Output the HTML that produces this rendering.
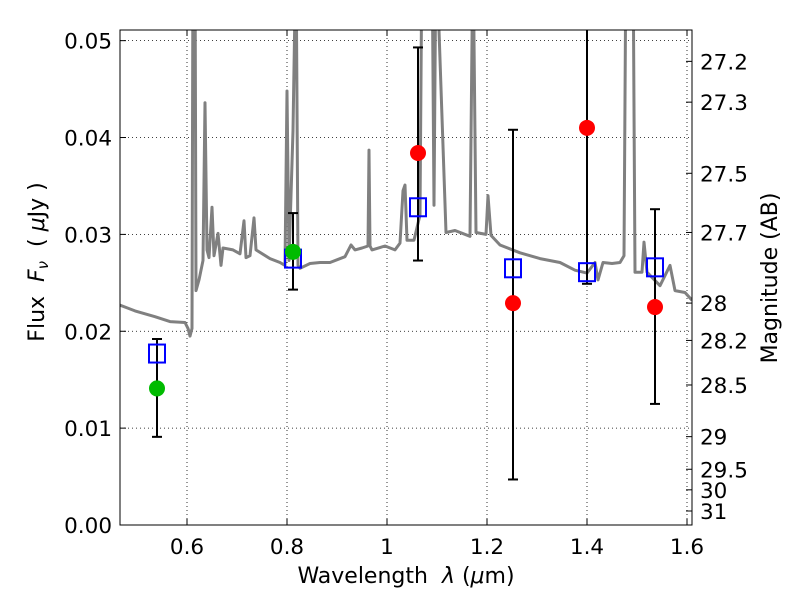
<!DOCTYPE html>
<html><head><meta charset="utf-8"><style>
body{margin:0;background:#fff}
svg text{font-family:"DejaVu Sans","Liberation Sans",sans-serif;fill:#000}
</style></head><body>
<svg id="c" width="800" height="600" xmlns="http://www.w3.org/2000/svg"></svg>
<script>
const specLam=[0.466,0.496,0.536,0.566,0.596,0.602,0.606,0.610,0.612,0.616,0.618,0.624,0.632,0.636,0.640,0.644,0.650,0.654,0.662,0.668,0.672,0.692,0.706,0.714,0.718,0.726,0.734,0.738,0.766,0.786,0.796,0.800,0.804,0.812,0.818,0.822,0.826,0.846,0.866,0.886,0.916,0.928,0.936,0.950,0.962,0.964,0.966,0.970,0.996,1.016,1.026,1.032,1.036,1.040,1.054,1.066,1.070,1.090,1.094,1.098,1.118,1.136,1.166,1.172,1.178,1.198,1.202,1.208,1.226,1.266,1.306,1.346,1.376,1.400,1.416,1.422,1.432,1.450,1.466,1.474,1.478,1.492,1.496,1.510,1.514,1.520,1.546,1.566,1.576,1.596,1.610];
const specFlux=[0.0227,0.0221,0.0215,0.0210,0.0209,0.0203,0.0195,0.0203,0.060,0.060,0.0242,0.0253,0.0273,0.0436,0.0284,0.0276,0.0328,0.0278,0.0301,0.0268,0.0286,0.0284,0.0280,0.0314,0.0276,0.0278,0.0317,0.0284,0.0275,0.0271,0.0268,0.0448,0.0273,0.0407,0.060,0.0268,0.0265,0.0270,0.0271,0.0271,0.0277,0.0289,0.0284,0.0286,0.0288,0.0387,0.0288,0.0284,0.0288,0.0284,0.0291,0.0345,0.0351,0.0294,0.0294,0.0320,0.060,0.060,0.0330,0.060,0.0302,0.0304,0.0298,0.060,0.0302,0.0300,0.0340,0.0299,0.0289,0.0281,0.0275,0.0271,0.0263,0.0260,0.0271,0.0253,0.0271,0.0270,0.0271,0.0278,0.060,0.060,0.0261,0.0261,0.0292,0.0261,0.0247,0.0268,0.0242,0.0240,0.0232];
const bandLam=[0.540,0.812,1.062,1.252,1.400,1.536];
const obsFlux=[0.0141,0.0282,0.0384,0.0229,0.0410,0.0225];
const obsColor=['#00bb00','#00bb00','red','red','red','red'];
const errHi=[0.0192,0.0322,0.0493,0.0408,0.060,0.0326];
const errLo=[0.0091,0.0243,0.0273,0.0047,0.0249,0.0125];
const modelFlux=[0.0177,0.0275,0.0328,0.0265,0.0261,0.0266];
const xTicks=[0.6,0.8,1.0,1.2,1.4,1.6];
const xTickLabels=['0.6','0.8','1','1.2','1.4','1.6'];
const yTicks=[0,0.01,0.02,0.03,0.04,0.05];
const yTickLabels=['0.00','0.01','0.02','0.03','0.04','0.05'];
const magTicks=[27.2,27.3,27.5,27.7,28,28.2,28.5,29,29.5,30,31];
const magLabels=['27.2','27.3','27.5','27.7','28','28.2','28.5','29','29.5','30','31'];

const L=120,R=692,T=30,B=525;
const xmin=0.466,xmax=1.61,ymin=0,ymax=0.0511;
const X=v=>L+(v-xmin)/(xmax-xmin)*(R-L);
const Y=v=>B-(v-ymin)/(ymax-ymin)*(B-T);
const svg=document.getElementById('c');
const NS='http://www.w3.org/2000/svg';
function mk(tag,at,parent){const e=document.createElementNS(NS,tag);for(const k in at)e.setAttribute(k,at[k]);(parent||svg).appendChild(e);return e;}

const defs=mk('defs',{});
const cp=mk('clipPath',{id:'pc'},defs);mk('rect',{x:L,y:T,width:R-L,height:B-T},cp);

xTicks.forEach(t=>{const g=mk('line',{x1:X(t),x2:X(t),y1:T,y2:B,stroke:'#000','stroke-width':0.8,'stroke-dasharray':'1,3'});

});
yTicks.forEach(t=>{const g=mk('line',{x1:L,x2:R,y1:Y(t),y2:Y(t),stroke:'#000','stroke-width':0.8,'stroke-dasharray':'1,3'});

});

let d=specLam.map((l,i)=>(i?'L':'M')+X(l).toFixed(1)+','+Y(specFlux[i]).toFixed(1)).join('');
const sp=mk('path',{d:d,fill:'none',stroke:'#808080','stroke-width':3,'stroke-linejoin':'round','clip-path':'url(#pc)'});



bandLam.forEach((l,i)=>{
 const g=mk('g',{'clip-path':'url(#pc)'});
 
 
 mk('line',{x1:X(l),x2:X(l),y1:Y(errHi[i]),y2:Y(errLo[i]),stroke:'#000','stroke-width':2},g);
 [errHi[i],errLo[i]].forEach(v=>mk('line',{x1:X(l)-5,x2:X(l)+5,y1:Y(v),y2:Y(v),stroke:'#000','stroke-width':2},g));
});
bandLam.forEach((l,i)=>{const s=mk('rect',{x:X(l)-8,y:Y(modelFlux[i])-9,width:16,height:18,fill:'none',stroke:'#0000ff','stroke-width':2});

});
bandLam.forEach((l,i)=>{const c=mk('circle',{cx:X(l),cy:Y(obsFlux[i]),r:8,fill:obsColor[i]});

});

const fr=mk('rect',{x:L,y:T,width:R-L,height:B-T,fill:'none',stroke:'#000','stroke-width':1});



xTicks.forEach((t,i)=>{
 mk('line',{x1:X(t),x2:X(t),y1:B,y2:B-6,stroke:'#000'});mk('line',{x1:X(t),x2:X(t),y1:T,y2:T+6,stroke:'#000'});
 const tx=mk('text',{x:X(t),y:B+29,'text-anchor':'middle','font-size':21.5});tx.textContent=xTickLabels[i];
 
 
});
yTicks.forEach((t,i)=>{
 mk('line',{x1:L,x2:L+6,y1:Y(t),y2:Y(t),stroke:'#000'});
 const tx=mk('text',{x:L-8,y:Y(t)+8,'text-anchor':'end','font-size':21.5});tx.textContent=yTickLabels[i];
 
 
});
magTicks.forEach((m,i)=>{
 const f=Math.pow(10,(23.9-m)/2.5);const y=Y(f);
 mk('line',{x1:R,x2:R-6,y1:y,y2:y,stroke:'#000'});
 const tx=mk('text',{x:R+8,y:y+8,'font-size':21.5});tx.textContent=magLabels[i];
 
 
});

let t=mk('text',{x:406,y:583,'text-anchor':'middle','font-size':22});
t.innerHTML='Wavelength&#160; <tspan font-style="italic">λ</tspan> (<tspan font-style="italic">μ</tspan>m)';


t=mk('text',{x:0,y:0,'text-anchor':'middle','font-size':22,transform:'translate(44,262) rotate(-90)'});
t.innerHTML='Flux&#160; <tspan font-style="italic">F</tspan><tspan font-style="italic" font-size="15" dy="4">ν</tspan><tspan dy="-4">&#160; ( </tspan><tspan font-style="italic">μ</tspan>Jy )';


t=mk('text',{x:0,y:0,'text-anchor':'middle','font-size':22,transform:'translate(777,278) rotate(-90)'});
t.textContent='Magnitude (AB)';


</script>
</body></html>
